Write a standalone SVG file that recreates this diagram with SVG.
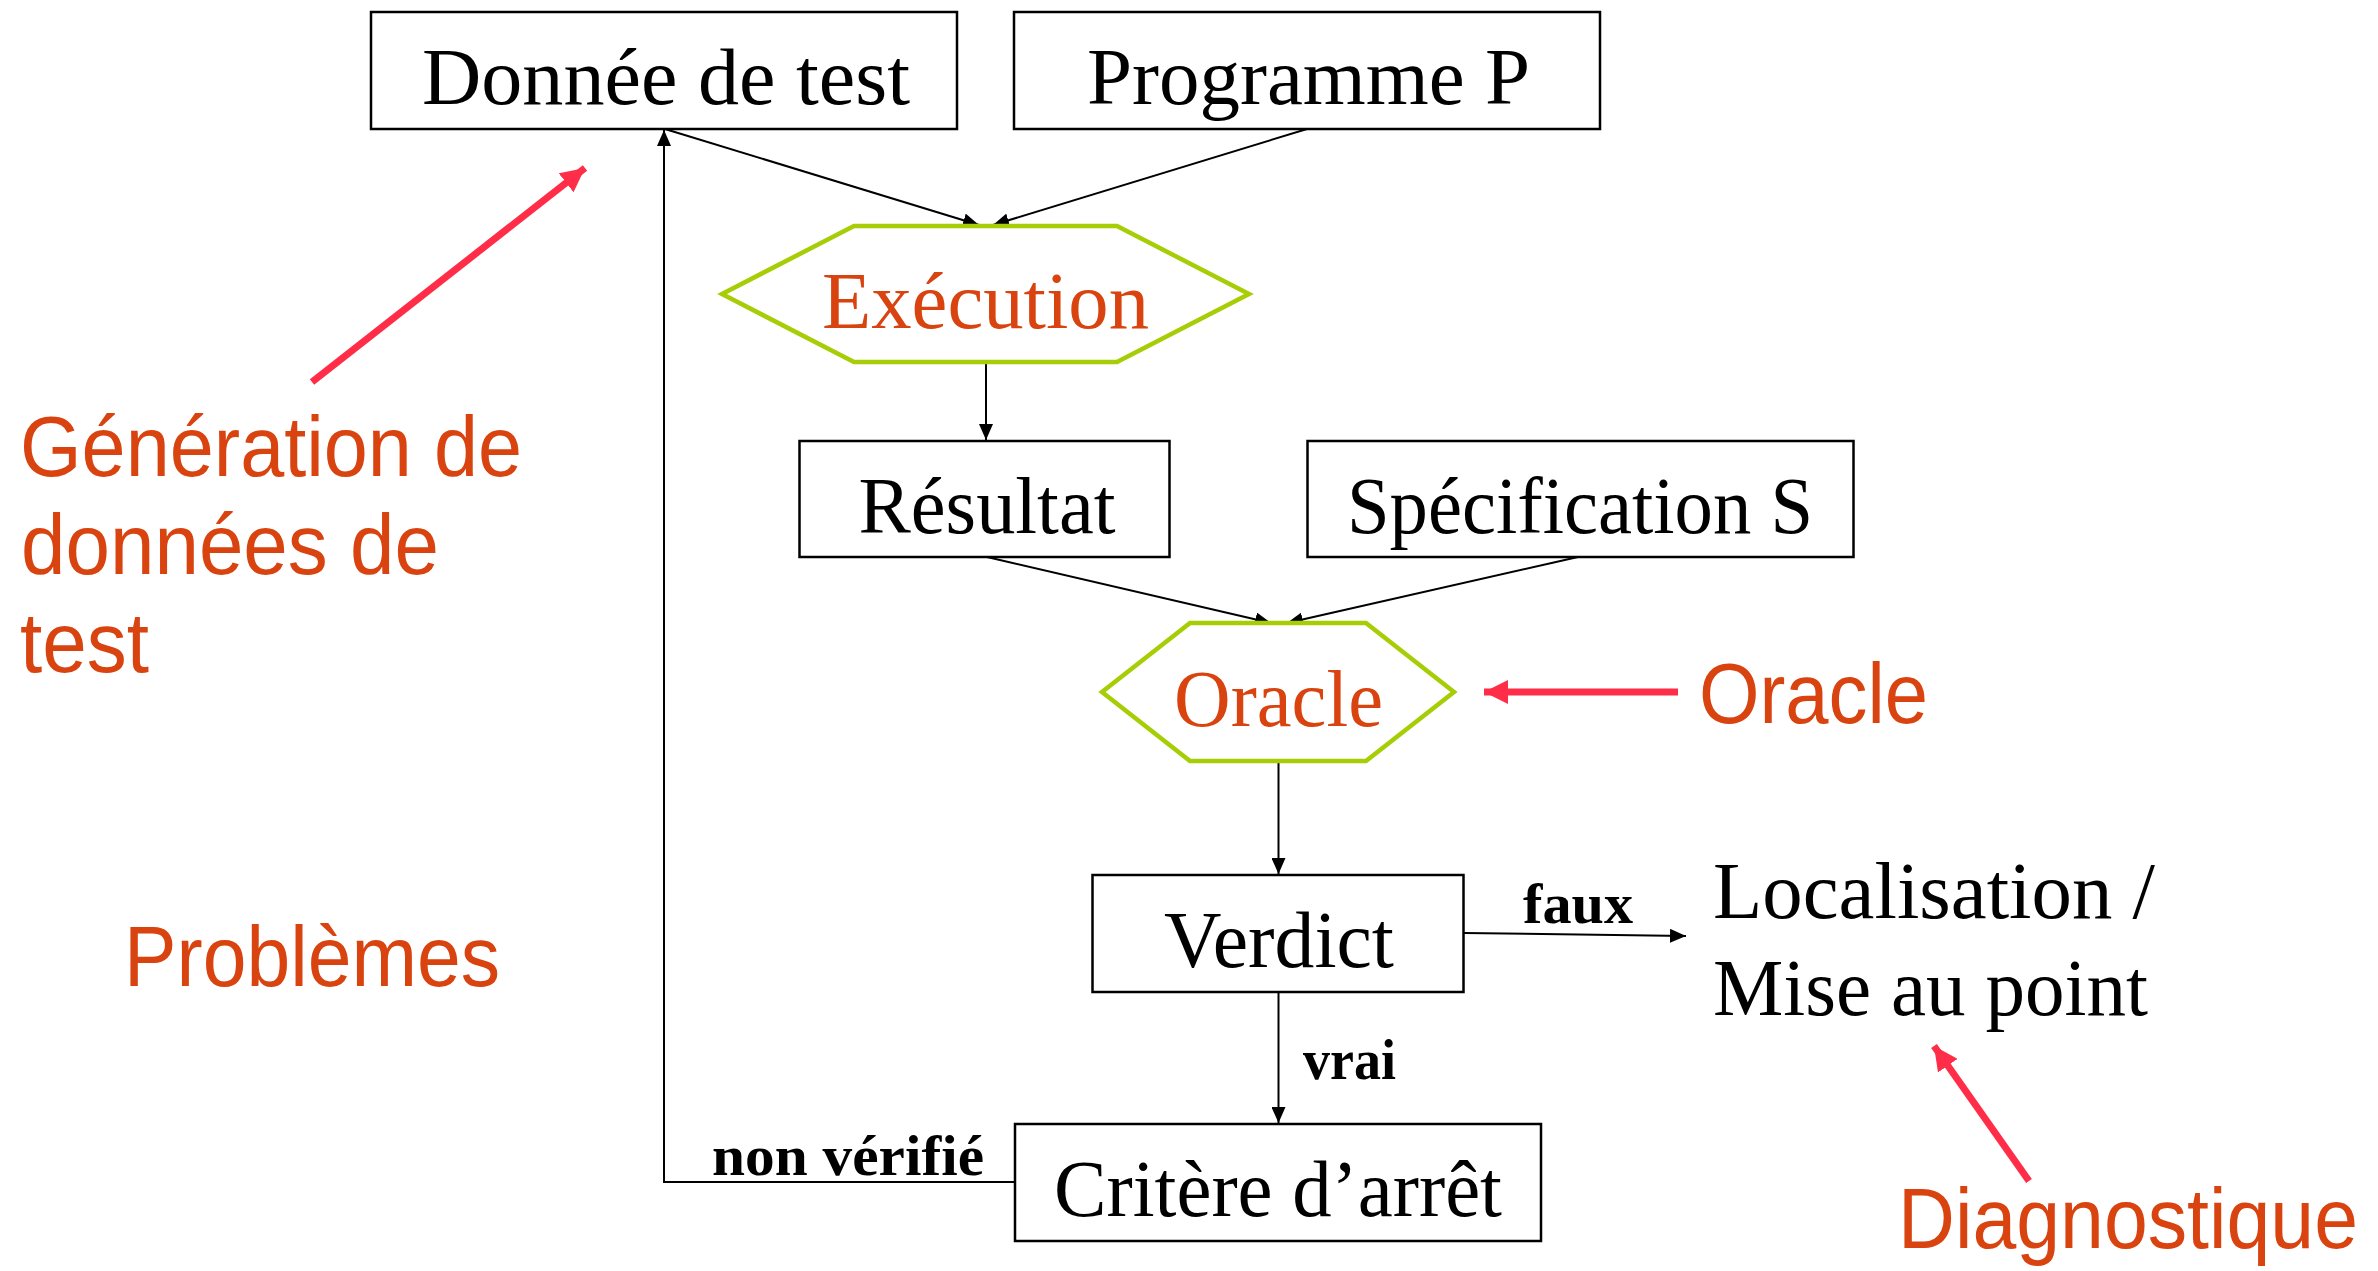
<svg xmlns="http://www.w3.org/2000/svg" width="2378" height="1271" viewBox="0 0 2378 1271">
<style>
.box{fill:#fff;stroke:#000;stroke-width:2.5}
.hex{fill:#fff;stroke:#a6cd06;stroke-width:4.5}
.lbl{font-family:"Liberation Serif",serif;font-size:80px;fill:#000;text-anchor:middle}
.hlbl{font-family:"Liberation Serif",serif;font-size:80px;fill:#d9430f;text-anchor:middle}
.free{font-family:"Liberation Serif",serif;font-size:80px;fill:#000}
.edge{font-family:"Liberation Serif",serif;font-size:57px;font-weight:bold;fill:#000}
.note{font-family:"Liberation Sans",Arial,sans-serif;font-size:85px;fill:#d9430f}
.conn{fill:none;stroke:#000;stroke-width:2}
.red{fill:none;stroke:#ff2d48;stroke-width:7}
</style>
<defs>
<marker id="ah" markerUnits="userSpaceOnUse" markerWidth="18" markerHeight="14" refX="16" refY="7" orient="auto"><path d="M0,0 L16,7 L0,14 z" fill="#000"/></marker>
<marker id="rh" markerUnits="userSpaceOnUse" markerWidth="26" markerHeight="24" refX="24" refY="12" orient="auto"><path d="M0,0 L24,12 L0,24 z" fill="#ff2d48"/></marker>
</defs>
<g id="connectors">
<line class="conn" x1="665" y1="129" x2="979" y2="225" marker-end="url(#ah)"/>
<line class="conn" x1="1307" y1="129" x2="993" y2="225" marker-end="url(#ah)"/>
<line class="conn" x1="986" y1="362" x2="986" y2="440" marker-end="url(#ah)"/>
<line class="conn" x1="987" y1="557" x2="1271" y2="623" marker-end="url(#ah)"/>
<line class="conn" x1="1578" y1="557" x2="1287" y2="623" marker-end="url(#ah)"/>
<line class="conn" x1="1278.5" y1="761" x2="1278.5" y2="874" marker-end="url(#ah)"/>
<line class="conn" x1="1278.5" y1="993" x2="1278.5" y2="1123" marker-end="url(#ah)"/>
<line class="conn" x1="1464" y1="933" x2="1686" y2="936" stroke-width="2.5" marker-end="url(#ah)"/>
<polyline class="conn" points="1014,1182 664,1182 664,130" marker-end="url(#ah)"/>
<text class="edge" x="1523" y="923" textLength="110" lengthAdjust="spacingAndGlyphs">faux</text>
<text class="edge" x="1303" y="1079" textLength="93" lengthAdjust="spacingAndGlyphs">vrai</text>
<text class="edge" x="712" y="1175" textLength="272" lengthAdjust="spacingAndGlyphs">non vérifié</text>
</g>
<g id="n-donnee"><rect class="box" x="371" y="12" width="586" height="117"/><text class="lbl" x="666" y="104" textLength="488" lengthAdjust="spacingAndGlyphs">Donnée de test</text></g>
<g id="n-programme"><rect class="box" x="1014" y="12" width="586" height="117"/><text class="lbl" x="1308.5" y="104" textLength="443" lengthAdjust="spacingAndGlyphs">Programme P</text></g>
<g id="n-execution"><polygon class="hex" points="722,294 854,226 1117,226 1249,294 1117,362 854,362"/><text class="hlbl" x="985.5" y="328" textLength="327" lengthAdjust="spacingAndGlyphs">Exécution</text></g>
<g id="n-resultat"><rect class="box" x="799.5" y="441" width="370" height="116"/><text class="lbl" x="987" y="533" textLength="257" lengthAdjust="spacingAndGlyphs">Résultat</text></g>
<g id="n-specification"><rect class="box" x="1307.5" y="441" width="546" height="116"/><text class="lbl" x="1580" y="533" textLength="466" lengthAdjust="spacingAndGlyphs">Spécification S</text></g>
<g id="n-oracle"><polygon class="hex" points="1102,692 1190,623 1366,623 1454,692 1366,761 1190,761"/><text class="hlbl" x="1278.5" y="726" textLength="209" lengthAdjust="spacingAndGlyphs">Oracle</text></g>
<g id="n-verdict"><rect class="box" x="1092.5" y="875" width="371" height="117"/><text class="lbl" x="1279" y="967" textLength="230" lengthAdjust="spacingAndGlyphs">Verdict</text></g>
<g id="n-critere"><rect class="box" x="1015" y="1124" width="526" height="117"/><text class="lbl" x="1278" y="1216" textLength="448" lengthAdjust="spacingAndGlyphs">Critère d’arrêt</text></g>
<g id="n-localisation"><text class="free" x="1713" y="918" textLength="442" lengthAdjust="spacingAndGlyphs">Localisation /</text><text class="free" x="1713" y="1015" textLength="435" lengthAdjust="spacingAndGlyphs">Mise au point</text></g>
<g id="annotations">
<line class="red" x1="312" y1="382" x2="585" y2="168" marker-end="url(#rh)"/>
<line class="red" x1="1678" y1="692" x2="1484" y2="692" marker-end="url(#rh)"/>
<line class="red" x1="2029" y1="1181" x2="1934" y2="1046" marker-end="url(#rh)"/>
<text class="note" x="20" y="476" textLength="502" lengthAdjust="spacingAndGlyphs">Génération de</text>
<text class="note" x="21" y="574" textLength="418" lengthAdjust="spacingAndGlyphs">données de</text>
<text class="note" x="20" y="672" textLength="129" lengthAdjust="spacingAndGlyphs">test</text>
<text class="note" x="1699" y="723" textLength="229" lengthAdjust="spacingAndGlyphs">Oracle</text>
<text class="note" x="124" y="986" textLength="376" lengthAdjust="spacingAndGlyphs">Problèmes</text>
<text class="note" x="1898" y="1248" font-size="78" textLength="460" lengthAdjust="spacingAndGlyphs">Diagnostique</text>
</g>
</svg>
